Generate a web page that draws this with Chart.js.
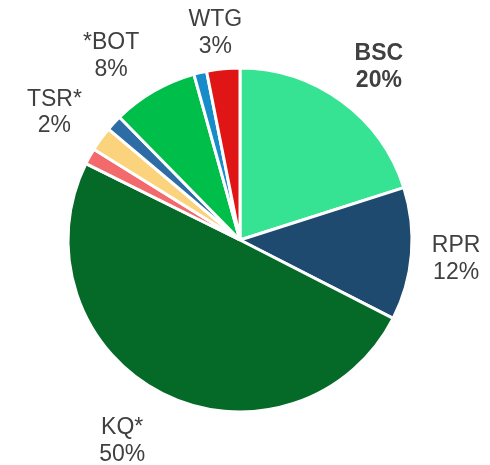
<!DOCTYPE html>
<html>
<head>
<meta charset="utf-8">
<script src="https://cdn.jsdelivr.net/npm/chart.js@4"></script>
<style>
html,body{margin:0;padding:0;background:#fff;}
#wrap{width:490px;height:465px;}
</style>
</head>
<body>
<div id="wrap"><canvas id="c" width="490" height="465"></canvas></div>
<script>
const categories = ["BSC", "RPR", "KQ*", "", "TSR*", "", "*BOT", "", "WTG"];
const values = [20, 12.4, 49.6, 1.5, 2.3, 1.5, 8, 1.2, 3.1];
const colors = ["#36E393", "#1F4A6F", "#056A27", "#F26A6B", "#FAD37C", "#2E6CA5", "#00BE4A", "#178CC9", "#E01616"];
const boldLabels = [true, false, false, false, false, false, false, false, false];

const outsideLabels = {
  id: 'outsideLabels',
  afterDatasetsDraw(chart, args, opts) {
    const ctx = chart.ctx;
    const meta = chart.getDatasetMeta(0);
    const total = values.reduce((a, b) => a + b, 0);
    const nudges = opts.nudges || [];
    meta.data.forEach((arc, i) => {
      if (!categories[i]) return;
      const p = arc.getProps(['x', 'y', 'startAngle', 'endAngle', 'outerRadius'], true);
      const mid = (p.startAngle + p.endAngle) / 2;
      const r = p.outerRadius * 1.29;
      const n = nudges[i] || [0, 0];
      const x = p.x + Math.cos(mid) * r + n[0];
      const y = p.y + Math.sin(mid) * r + n[1];
      ctx.save();
      ctx.fillStyle = '#404040';
      ctx.textAlign = 'center';
      ctx.textBaseline = 'alphabetic';
      ctx.font = (boldLabels[i] ? 'bold ' : '') + '23px "Liberation Sans", Arial, sans-serif';
      const pct = Math.round(values[i] / total * 100) + '%';
      ctx.fillText(categories[i], x, y - 5);
      ctx.fillText(pct, x, y + 21.7);
      ctx.restore();
    });
  }
};

new Chart(document.getElementById('c'), {
  type: 'pie',
  data: {
    labels: categories,
    datasets: [{
      data: values,
      backgroundColor: colors,
      borderColor: '#ffffff',
      borderWidth: 3,
      radius: 172
    }]
  },
  options: {
    responsive: false,
    animation: false,
    layout: { padding: { left: 50, right: 60, top: 60, bottom: 45 } },
    plugins: {
      legend: { display: false },
      tooltip: { enabled: false },
      outsideLabels: {
        nudges: [[8, 4], [-5, -1], [-18, 1], null, [-6, 1], null, [-18, 6], null, [-3, 12]]
      }
    }
  },
  plugins: [outsideLabels]
});
</script>
</body>
</html>
